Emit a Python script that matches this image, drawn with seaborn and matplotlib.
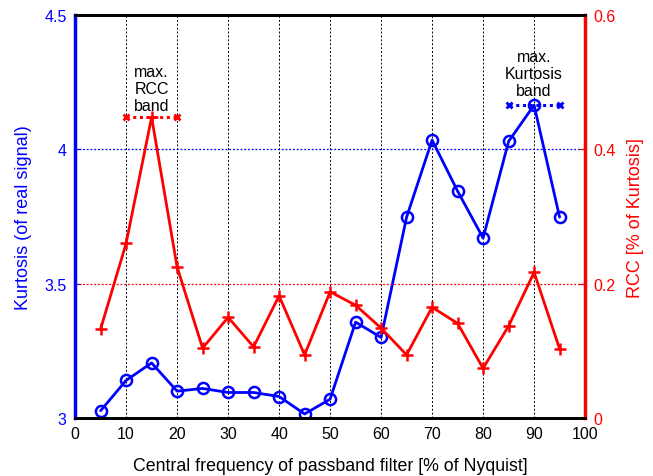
import matplotlib
matplotlib.use("Agg")
import matplotlib.pyplot as plt
import seaborn as sns
import pandas as pd

freq = [5, 10, 15, 20, 25, 30, 35, 40, 45, 50, 55, 60, 65, 70, 75, 80, 85, 90, 95]
kurtosis = [3.027, 3.14, 3.205, 3.10, 3.11, 3.095, 3.095, 3.08, 3.015, 3.07,
            3.357, 3.30, 3.748, 4.035, 3.845, 3.67, 4.03, 4.165, 3.748]
rcc = [0.1325, 0.26, 0.448, 0.225, 0.104, 0.15, 0.106, 0.182, 0.094, 0.188,
       0.168, 0.134, 0.094, 0.165, 0.141, 0.074, 0.137, 0.217, 0.103]
rcc_band = [10, 20]
kurt_band = [85, 95]

sns.set_style("white")
plt.rcParams['font.family'] = ['Liberation Sans', 'DejaVu Sans']
plt.rcParams['text.color'] = 'black'

df = pd.DataFrame({"freq": freq, "kurtosis": kurtosis, "rcc": rcc})

fig = plt.figure(figsize=(6.53, 4.77), dpi=100)
ax = fig.add_axes([0.115, 0.1216, 0.781, 0.8444])
ax2 = ax.twinx()

# grids
for xv in range(10, 100, 10):
    ax.axvline(xv, color='black', ls=(0, (2, 2)), lw=0.7, zorder=0)
ax.axhline(4.0, color='blue', ls=(0, (1.5, 1.5)), lw=0.9, zorder=0)
ax2.axhline(0.2, color='red', ls=(0, (1.5, 1.5)), lw=0.9, zorder=0)

sns.lineplot(data=df, x="freq", y="kurtosis", ax=ax, color='blue', lw=2,
             marker='o', markersize=8, markerfacecolor='none',
             markeredgecolor='blue', markeredgewidth=1.8)
sns.lineplot(data=df, x="freq", y="rcc", ax=ax2, color='red', lw=2,
             marker='+', markersize=9, markeredgecolor='red', markeredgewidth=1.8)

rmax = max(rcc)
kmax = max(kurtosis)
ax2.plot(rcc_band, [rmax, rmax], color='red', ls=(0, (1, 1.2)), lw=2.2,
         marker='x', markersize=4, markeredgewidth=2)
ax.plot(kurt_band, [kmax, kmax], color='blue', ls=(0, (1, 1.2)), lw=2.2,
        marker='x', markersize=4, markeredgewidth=2)

ax.text(15, 4.228, "max.\nRCC\nband", ha='center', va='center', fontsize=11.5,
        linespacing=1.15, color='black')
ax.text(90, 4.284, "max.\nKurtosis\nband", ha='center', va='center', fontsize=11.5,
        linespacing=1.15, color='black')

ax.set_xlim(0, 100)
ax.set_ylim(3, 4.5)
ax2.set_ylim(0, 0.6)
ax.set_xticks(range(0, 101, 10))
ax.set_yticks([3, 3.5, 4, 4.5])
ax.set_yticklabels(['3', '3.5', '4', '4.5'])
ax2.set_yticks([0, 0.2, 0.4, 0.6])
ax2.set_yticklabels(['0', '0.2', '0.4', '0.6'])

ax.set_xlabel("Central frequency of passband filter [% of Nyquist]", fontsize=12.8,
              labelpad=11, color='black')
ax.set_ylabel("Kurtosis (of real signal)", fontsize=13, color='blue', labelpad=9)
ax2.set_ylabel("RCC [% of Kurtosis]", fontsize=13, color='red', labelpad=8)

ax.tick_params(axis='x', direction='in', length=4, labelsize=11.5, colors='black', pad=6)
ax.tick_params(axis='y', direction='in', length=4, labelsize=11.5, colors='blue', pad=6)
ax2.tick_params(axis='y', direction='in', length=4, labelsize=11.5, colors='red', pad=6)

for a in (ax, ax2):
    a.spines['top'].set_color('black')
    a.spines['top'].set_linewidth(2)
    a.spines['bottom'].set_color('black')
    a.spines['bottom'].set_linewidth(2)
ax2.spines['left'].set_color('blue')
ax2.spines['left'].set_linewidth(2.5)
ax2.spines['right'].set_color('red')
ax2.spines['right'].set_linewidth(2.5)
ax.spines['left'].set_visible(False)
ax.spines['right'].set_visible(False)

fig.savefig("out.png", dpi=100)
